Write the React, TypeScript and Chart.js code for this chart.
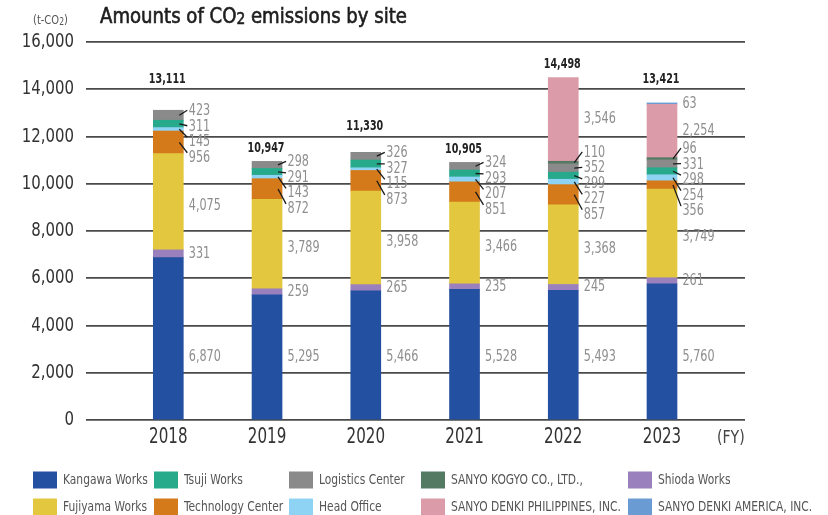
import React, { useEffect, useRef } from "react";
import { Chart, registerables } from "chart.js";

Chart.register(...registerables);

const years = ["2018", "2019", "2020", "2021", "2022", "2023"];
const kangawa = [6870, 5295, 5466, 5528, 5493, 5760];
const shioda = [331, 259, 265, 235, 245, 261];
const fujiyama = [4075, 3789, 3958, 3466, 3368, 3749];
const techCenter = [956, 872, 873, 851, 857, 356];
const headOffice = [145, 143, 115, 207, 227, 254];
const tsuji = [311, 291, 327, 293, 299, 298];
const logistics = [423, 298, 326, 324, 352, 331];
const sanyoKogyo = [null, null, null, null, 110, 96];
const philippines = [null, null, null, null, 3546, 2254];
const america = [null, null, null, null, null, 63];
const totals = [13111, 10947, 11330, 10905, 14498, 13421];
const yTicks = [0, 2000, 4000, 6000, 8000, 10000, 12000, 14000, 16000];

const FONT = "'Liberation Sans Narrow', 'DejaVu Sans Condensed', 'Roboto', sans-serif";

type Series = { label: string; values: (number | null)[]; color: string; role: string };

// stack order, bottom to top
const series: Series[] = [
  { label: "Kangawa Works", values: kangawa, color: "#2350a0", role: "fixed" },
  { label: "Shioda Works", values: shioda, color: "#9a80bd", role: "mid" },
  { label: "Fujiyama Works", values: fujiyama, color: "#e2c73f", role: "midLow" },
  { label: "Technology Center", values: techCenter, color: "#d47a1a", role: "cluster" },
  { label: "Head Office", values: headOffice, color: "#8fd3f4", role: "cluster" },
  { label: "Tsuji Works", values: tsuji, color: "#27a98b", role: "cluster" },
  { label: "Logistics Center", values: logistics, color: "#8a8a8a", role: "cluster" },
  { label: "SANYO KOGYO CO., LTD.,", values: sanyoKogyo, color: "#557a64", role: "cluster" },
  { label: "SANYO DENKI PHILIPPINES, INC.", values: philippines, color: "#dc9ba9", role: "phil" },
  { label: "SANYO DENKI AMERICA, INC.", values: america, color: "#6a9bd3", role: "mid" },
];

// legend grid (row-major), by series label
const legendRows = [
  ["Kangawa Works", "Tsuji Works", "Logistics Center", "SANYO KOGYO CO., LTD.,", "Shioda Works"],
  ["Fujiyama Works", "Technology Center", "Head Office", "SANYO DENKI PHILIPPINES, INC.", "SANYO DENKI AMERICA, INC."],
];
const legendColX = [33, 154, 289, 421, 628];
const legendRowY = [480, 507];

const fmt = (v: number) => v.toLocaleString("en-US");

// draw text horizontally condensed (the reference uses a narrow typeface)
function drawText(
  ctx: CanvasRenderingContext2D,
  text: string,
  x: number,
  y: number,
  font: string,
  color: string,
  align: CanvasTextAlign,
  sx: number,
  stroke = 0
) {
  ctx.save();
  ctx.font = font;
  ctx.fillStyle = color;
  ctx.textBaseline = "middle";
  ctx.textAlign = align;
  ctx.translate(x, y);
  ctx.scale(sx, 1);
  ctx.fillText(text, 0, 0);
  if (stroke > 0) {
    ctx.strokeStyle = color;
    ctx.lineWidth = stroke;
    ctx.strokeText(text, 0, 0);
  }
  ctx.restore();
}
function textWidth(ctx: CanvasRenderingContext2D, text: string, font: string, sx: number) {
  ctx.save();
  ctx.font = font;
  const w = ctx.measureText(text).width * sx;
  ctx.restore();
  return w;
}

const labelsPlugin = {
  id: "valueLabels",
  beforeDatasetsDraw(chart: any) {
    const ctx = chart.ctx;
    const ys = chart.scales.y;
    const xs = chart.scales.x;
    yTicks.forEach((t) => {
      drawText(ctx, fmt(t), chart.chartArea.left - 12, ys.getPixelForValue(t), `20px ${FONT}`, "#333", "right", 0.83);
    });
    years.forEach((yr, i) => {
      drawText(ctx, yr, xs.getPixelForValue(i), chart.chartArea.bottom + 18, `21px ${FONT}`, "#333", "center", 0.8);
    });
  },
  afterDatasetsDraw(chart: any) {
    const ctx = chart.ctx;
    const ys = chart.scales.y;
    years.forEach((_, i) => {
      let barX = 0;
      let barRight = 0;
      let barTop = Infinity;
      const cluster: { v: number; mid: number; top: number }[] = [];
      let americaY: number | null = null;
      const drawVal = (v: number, yy: number, x: number) => {
        drawText(ctx, fmt(v), x, yy, `15px ${FONT}`, "#8e8e8e", "left", 0.83);
      };
      const geo = series.map((s, d) => {
        const v = s.values[i];
        if (v == null) return null;
        const el = chart.getDatasetMeta(d).data[i];
        const p = el.getProps(["x", "y", "base", "width"], true);
        barX = p.x;
        barRight = p.x + p.width / 2;
        barTop = Math.min(barTop, p.y);
        return { v, top: p.y, base: p.base, mid: (p.y + p.base) / 2 };
      });
      const labelX = barRight + 5.5;
      for (let d = series.length - 1; d >= 0; d--) {
        const g = geo[d];
        if (!g) continue;
        const role = series[d].role;
        if (role === "fixed") drawVal(g.v, ys.getPixelForValue(2650), labelX);
        else if (role === "mid") {
          drawVal(g.v, g.mid, labelX);
          if (series[d].label.includes("AMERICA")) americaY = g.mid;
        } else if (role === "midLow") drawVal(g.v, g.mid + 4, labelX);
        else if (role === "phil") {
          let yy = g.mid;
          if (americaY !== null) yy = Math.max(yy, americaY + 19);
          drawVal(g.v, yy, labelX);
        } else if (role === "cluster") cluster.push({ v: g.v, mid: g.mid, top: g.top });
      }
      if (cluster.length) {
        const n = cluster.length;
        const startY = cluster[0].top + 1 - (n - 4) * 9.5;
        cluster.forEach((c, k) => {
          const ly = startY + k * 15.5;
          const endY = ly > c.mid + 4 ? ly - 5 : ly - 1;
          ctx.save();
          ctx.strokeStyle = "#1a1a1a";
          ctx.lineWidth = 1.3;
          ctx.beginPath();
          ctx.moveTo(barRight - 4, c.mid);
          ctx.lineTo(labelX - 1.5, endY);
          ctx.stroke();
          ctx.restore();
          drawVal(c.v, ly, labelX);
        });
      }
      let ty = barTop - 13;
      yTicks.forEach((t) => {
        const gy = ys.getPixelForValue(t);
        if (Math.abs(ty - gy) < 10) ty = gy - 10;
      });
      drawText(ctx, fmt(totals[i]), barX - 1, ty, `bold 14px ${FONT}`, "#222", "center", 0.76);
    });
  },
  afterDraw(chart: any) {
    const ctx = chart.ctx;
    // title
    const tBig = `21px ${FONT}`;
    const tSmall = `16px ${FONT}`;
    const parts: [string, string, number][] = [
      ["Amounts of CO", tBig, 18],
      ["2", tSmall, 19.5],
      [" emissions by site", tBig, 18],
    ];
    const raw = parts.reduce((a, p) => a + textWidth(ctx, p[0], p[1], 1), 0);
    const sx = 307 / raw;
    let x = 100;
    parts.forEach(([t, f, yy]) => {
      drawText(ctx, t, x, yy, f, "#1e1e1e", "left", sx, 0.6);
      x += textWidth(ctx, t, f, sx);
    });
    // unit
    let ux = 33;
    const uParts: [string, string, number][] = [
      ["(t-CO", `13px ${FONT}`, 21],
      ["2", `10px ${FONT}`, 22],
      [")", `13px ${FONT}`, 21],
    ];
    uParts.forEach(([t, f, yy]) => {
      drawText(ctx, t, ux, yy, f, "#555", "left", 0.85);
      ux += textWidth(ctx, t, f, 0.85);
    });
    // FY
    drawText(ctx, "(FY)", 717, 438, `18px ${FONT}`, "#444", "left", 0.87);
    // legend
    legendRows.forEach((row, r) => {
      row.forEach((name, c) => {
        const s = series.find((q) => q.label === name)!;
        const lx = legendColX[c];
        const ly = legendRowY[r];
        ctx.fillStyle = s.color;
        ctx.fillRect(lx, ly - 8.5, 24, 17);
        drawText(ctx, name, lx + 30, ly, `14px ${FONT}`, "#555", "left", 0.85);
      });
    });
  },
};

export default function App() {
  const ref = useRef<HTMLCanvasElement>(null);
  useEffect(() => {
    document.body.style.margin = "0";
    const chart = new Chart(ref.current!, {
      type: "bar",
      data: {
        datasets: series.map((s) => ({
          label: s.label,
          data: s.values.map((v, i) => ({ x: i, y: v })),
          backgroundColor: s.color,
          borderWidth: 0,
          barThickness: 30,
        })) as any,
      },
      options: {
        animation: false,
        responsive: false,
        devicePixelRatio: 1,
        layout: { padding: { left: 0, right: 83, top: 42, bottom: 0 } },
        plugins: { legend: { display: false }, tooltip: { enabled: false } },
        scales: {
          x: {
            type: "linear",
            stacked: true,
            offset: false,
            min: -0.8335,
            max: 5.8406,
            grid: { display: false, drawTicks: false, offset: false },
            border: { display: false },
            afterBuildTicks: (scale: any) => {
              scale.ticks = years.map((_, i) => ({ value: i }));
            },
            afterFit: (scale: any) => {
              scale.height = 95;
            },
            ticks: { display: false },
          },
          y: {
            stacked: true,
            min: 0,
            max: 16000,
            grid: { color: "#4a4a4a", lineWidth: 1.8, drawTicks: false },
            border: { display: false },
            afterBuildTicks: (scale: any) => {
              scale.ticks = yTicks.map((v) => ({ value: v }));
            },
            afterFit: (scale: any) => {
              scale.width = 86;
            },
            ticks: { display: false },
          },
        },
      },
      plugins: [labelsPlugin],
    });
    return () => chart.destroy();
  }, []);
  return (
    <div style={{ position: "relative", width: 828, height: 515, background: "#fff" }}>
      <canvas ref={ref} width={828} height={515} />
    </div>
  );
}
